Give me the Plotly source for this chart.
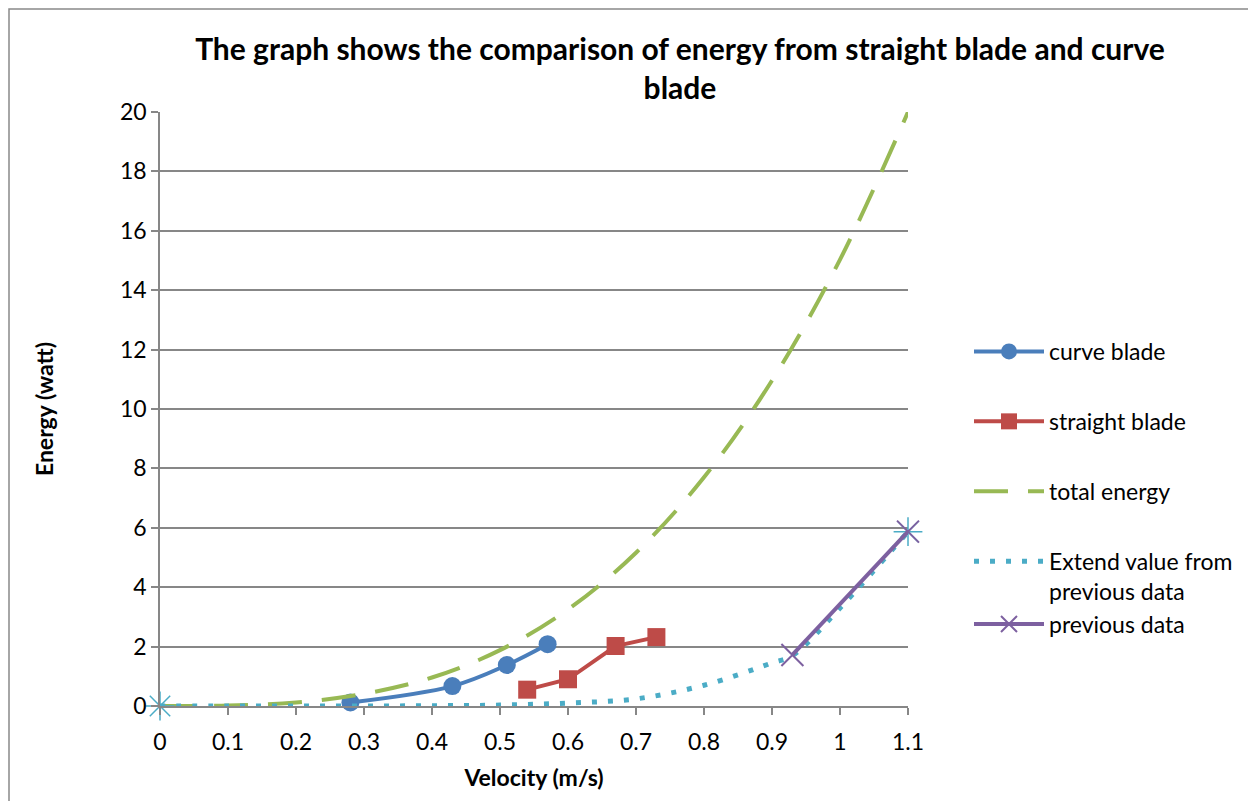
import plotly.graph_objects as go

# ---- data ----
curve_x = [0.28, 0.43, 0.51, 0.57]
curve_y = [0.12, 0.67, 1.38, 2.08]

straight_x = [0.54, 0.60, 0.67, 0.73]
straight_y = [0.55, 0.90, 2.02, 2.32]

total_x = [0, 0.1, 0.2, 0.3, 0.4, 0.5, 0.6, 0.7, 0.8, 0.9, 1.0, 1.1]
total_y = [0, 0.02, 0.12, 0.41, 0.96, 1.88, 3.25, 5.16, 7.7, 10.96, 15.03, 20.0]

extend_x = [0, 0.1, 0.2, 0.3, 0.4, 0.5, 0.6, 0.7, 0.8, 0.9, 0.93, 1.0, 1.1]
extend_y = [0, 0, 0, 0, 0.01, 0.03, 0.1, 0.24, 0.7, 1.45, 1.7, 3.3, 5.87]

extend_marks_x = [0, 1.1]
extend_marks_y = [0, 5.87]

previous_x = [0.93, 1.1]
previous_y = [1.72, 5.87]

x_ticks = [0, 0.1, 0.2, 0.3, 0.4, 0.5, 0.6, 0.7, 0.8, 0.9, 1.0, 1.1]
x_tick_labels = ["0", "0.1", "0.2", "0.3", "0.4", "0.5", "0.6", "0.7", "0.8", "0.9", "1", "1.1"]
y_ticks = [0, 2, 4, 6, 8, 10, 12, 14, 16, 18, 20]

FONT = "Lato"

fig = go.Figure()

fig.add_trace(go.Scatter(
    x=curve_x, y=curve_y, name="curve blade", mode="lines+markers",
    line=dict(color="#4A7EBB", width=4, shape="spline"),
    marker=dict(symbol="circle", size=18, color="#4A7EBB"),
    legendgroup="a", cliponaxis=False))

fig.add_trace(go.Scatter(
    x=straight_x, y=straight_y, name="straight blade", mode="lines+markers",
    line=dict(color="#BE4B48", width=4),
    marker=dict(symbol="square", size=18, color="#BE4B48"),
    legendgroup="b", cliponaxis=False))

fig.add_trace(go.Scatter(
    x=total_x, y=total_y, name="total energy", mode="lines",
    line=dict(color="#98B954", width=4, dash="34px,20px", shape="spline"),
    legendgroup="c", cliponaxis=False))

fig.add_trace(go.Scatter(
    x=extend_x, y=extend_y, name="Extend value from<br>previous data", mode="lines",
    line=dict(color="#4BACC6", width=5, dash="5px,11px", shape="spline"),
    legendgroup="d", cliponaxis=False))

fig.add_trace(go.Scatter(
    x=extend_marks_x, y=extend_marks_y, mode="markers", showlegend=False,
    marker=dict(symbol="asterisk-open", size=24, color="#4BACC6",
                line=dict(color="#4BACC6", width=1.5)),
    legendgroup="d", cliponaxis=False))

fig.add_trace(go.Scatter(
    x=previous_x, y=previous_y, name="previous data", mode="lines+markers",
    line=dict(color="#7D60A0", width=4),
    marker=dict(symbol="x-thin-open", size=22, color="#7D60A0",
                line=dict(color="#7D60A0", width=2)),
    legendgroup="d", cliponaxis=False))

fig.update_layout(
    width=1248, height=801,
    margin=dict(l=160, r=340, t=112, b=95, autoexpand=False),
    paper_bgcolor="white", plot_bgcolor="white",
    font=dict(family=FONT, color="black"),
    title=dict(
        text="<b>The graph shows the comparison of energy from straight blade and curve<br>blade</b>",
        x=680 / 1248, xanchor="center", y=1 - 60 / 801, yanchor="top",
        font=dict(size=30, family=FONT, color="black")),
    xaxis=dict(
        range=[0, 1.1], tickvals=x_ticks, ticktext=x_tick_labels,
        showgrid=False, zeroline=False,
        showline=True, linecolor="#878787", linewidth=1.5,
        ticks="outside", ticklen=7, tickcolor="#878787", tickwidth=1.5,
        ticklabelstandoff=8,
        tickfont=dict(size=23, family=FONT, color="black"),
        title=dict(text="<b>Velocity (m/s)</b>", font=dict(size=23, family=FONT, color="black"),
                   standoff=16)),
    yaxis=dict(
        range=[0, 20], tickvals=y_ticks,
        showgrid=True, gridcolor="#878787", gridwidth=1.5, zeroline=False,
        showline=True, linecolor="#878787", linewidth=1.5,
        ticks="outside", ticklen=7, tickcolor="#878787", tickwidth=1.5,
        tickfont=dict(size=23, family=FONT, color="black"),
        title=dict(text="<b>Energy (watt)</b>", font=dict(size=23, family=FONT, color="black"),
                   standoff=60)),
    legend=dict(
        x=(969 - 160) / 748, xanchor="left", y=(706 - 330) / 594, yanchor="top",
        font=dict(size=23, family=FONT, color="black"), valign="top",
        tracegroupgap=37, itemwidth=70, bgcolor="rgba(0,0,0,0)"),
    shapes=[dict(type="rect", xref="paper", yref="paper",
                 x0=(9 - 160) / 748, x1=1.6, y0=-0.5, y1=(706 - 9) / 594,
                 line=dict(color="#898989", width=1.5), fillcolor="rgba(0,0,0,0)",
                 layer="below")],
)

fig.write_html("out.html")
